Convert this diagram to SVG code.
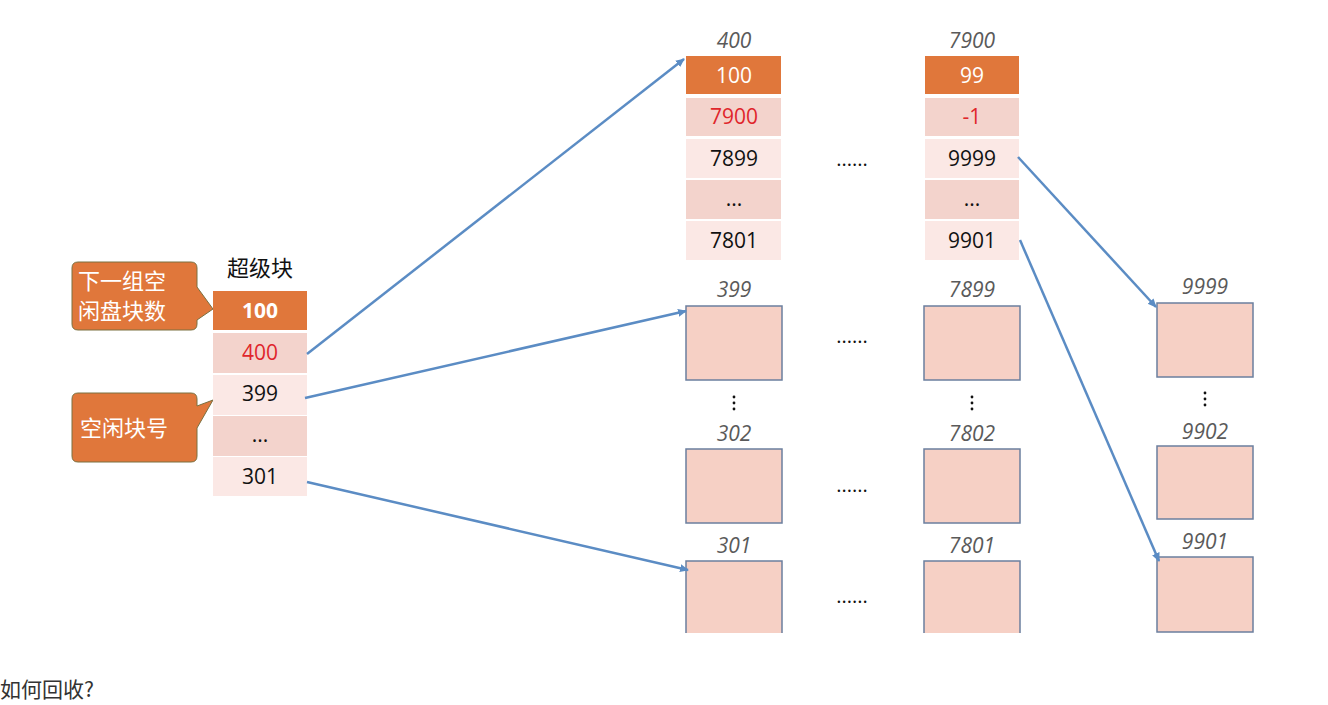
<svg xmlns="http://www.w3.org/2000/svg" width="1328" height="705" viewBox="0 0 1328 705">
<style>
.num{font-family:"Open Sans","Liberation Sans",sans-serif;font-size:21px;text-anchor:middle;fill:#111}
.lbl{font-family:"Open Sans","Liberation Sans",sans-serif;font-size:21px;font-style:italic;text-anchor:middle;fill:#5a5a5a}
.w{fill:#ffffff}
.r{fill:#e0262b}
.cn{font-family:"Noto Sans CJK SC",sans-serif}
.or{fill:#e0773b}
.dk{fill:#f3d3cc}
.lt{fill:#fbe8e5}
.box{fill:#f6d0c5;stroke:#6b7f9e;stroke-width:1.5}
.dots{font-family:"Open Sans","Liberation Sans",sans-serif;font-size:20px;text-anchor:middle;fill:#111}
.conn{stroke:#5b8cc4;stroke-width:2.5;fill:none;marker-end:url(#ah)}
</style>
<defs>
<marker id="ah" markerWidth="10" markerHeight="10" refX="8" refY="5" orient="auto" markerUnits="userSpaceOnUse">
<path d="M0,1 L9,5 L0,9 Z" fill="#5b8cc4"/>
</marker>
<clipPath id="slide"><rect x="0" y="0" width="1328" height="633"/></clipPath>
</defs>
<rect width="1328" height="705" fill="#ffffff"/>

<g id="callout1">
<path d="M78,262 H191 Q197,262 197,268 V287 L213,309 L197,320 V324 Q197,330 191,330 H78 Q72,330 72,324 V268 Q72,262 78,262 Z" fill="#e0773b" stroke="#7a7040" stroke-width="1"/>
<text class="cn" x="78" y="289" font-size="22" fill="#fff">下一组空</text>
<text class="cn" x="78" y="319" font-size="22" fill="#fff">闲盘块数</text>
</g>
<g id="callout2">
<path d="M78,393 H191 Q197,393 197,399 V406 L213,400 L197,428 V456 Q197,462 191,462 H78 Q72,462 72,456 V399 Q72,393 78,393 Z" fill="#e0773b" stroke="#7a7040" stroke-width="1"/>
<text class="cn" x="80" y="436" font-size="22" fill="#fff">空闲块号</text>
</g>

<g id="superblock">
<text class="cn" x="260" y="276" font-size="22" text-anchor="middle" fill="#111">超级块</text>
<rect class="or" x="213" y="291" width="94" height="39"/>
<text class="num w" x="260" y="318" font-weight="bold">100</text>
<rect class="dk" x="213" y="333" width="94" height="40"/>
<text class="num r" x="260" y="360">400</text>
<rect class="lt" x="213" y="375" width="94" height="40"/>
<text class="num" x="260" y="401">399</text>
<rect class="dk" x="213" y="416" width="94" height="40"/>
<text class="num" x="260" y="442">...</text>
<rect class="lt" x="213" y="457" width="94" height="39"/>
<text class="num" x="260" y="484">301</text>
</g>

<g id="block400">
<text class="lbl" x="734" y="48">400</text>
<rect class="or" x="686" y="56" width="95" height="38"/>
<text class="num w" x="734" y="83">100</text>
<rect class="dk" x="686" y="98" width="95" height="38"/>
<text class="num r" x="734" y="124">7900</text>
<rect class="lt" x="686" y="139" width="95" height="39"/>
<text class="num" x="734" y="166">7899</text>
<rect class="dk" x="686" y="180" width="95" height="39"/>
<text class="num" x="734" y="206">...</text>
<rect class="lt" x="686" y="221" width="95" height="39"/>
<text class="num" x="734" y="248">7801</text>
</g>

<g id="block7900">
<text class="lbl" x="972" y="48">7900</text>
<rect class="or" x="925" y="56" width="94" height="38"/>
<text class="num w" x="972" y="83">99</text>
<rect class="dk" x="925" y="98" width="94" height="38"/>
<text class="num r" x="972" y="124">-1</text>
<rect class="lt" x="925" y="139" width="94" height="39"/>
<text class="num" x="972" y="166">9999</text>
<rect class="dk" x="925" y="180" width="94" height="39"/>
<text class="num" x="972" y="206">...</text>
<rect class="lt" x="925" y="221" width="94" height="39"/>
<text class="num" x="972" y="248">9901</text>
</g>

<g id="hdots">
<text class="dots" x="852" y="166">......</text>
<text class="dots" x="852" y="343">......</text>
<text class="dots" x="852" y="492">......</text>
<text class="dots" x="852" y="603">......</text>
</g>

<g clip-path="url(#slide)">
<g id="b399"><text class="lbl" x="734" y="297">399</text><rect class="box" x="686" y="306" width="96" height="74"/></g>
<g id="b302"><text class="lbl" x="734" y="441">302</text><rect class="box" x="686" y="449" width="96" height="74"/></g>
<g id="b301"><text class="lbl" x="734" y="553">301</text><rect class="box" x="686" y="561" width="96" height="80"/></g>
<g id="b7899"><text class="lbl" x="972" y="297">7899</text><rect class="box" x="924" y="306" width="96" height="74"/></g>
<g id="b7802"><text class="lbl" x="972" y="441">7802</text><rect class="box" x="924" y="449" width="96" height="74"/></g>
<g id="b7801"><text class="lbl" x="972" y="553">7801</text><rect class="box" x="924" y="561" width="96" height="80"/></g>
<g id="b9999"><text class="lbl" x="1205" y="294">9999</text><rect class="box" x="1157" y="303" width="96" height="74"/></g>
<g id="b9902"><text class="lbl" x="1205" y="439">9902</text><rect class="box" x="1157" y="446" width="96" height="73"/></g>
<g id="b9901"><text class="lbl" x="1205" y="549">9901</text><rect class="box" x="1157" y="557" width="96" height="75"/></g>
</g>

<g id="vdots" fill="#111">
<circle cx="734" cy="397" r="1.4"/><circle cx="734" cy="403" r="1.4"/><circle cx="734" cy="409" r="1.4"/>
<circle cx="972" cy="397" r="1.4"/><circle cx="972" cy="403" r="1.4"/><circle cx="972" cy="409" r="1.4"/>
<circle cx="1205" cy="393" r="1.4"/><circle cx="1205" cy="399" r="1.4"/><circle cx="1205" cy="405" r="1.4"/>
</g>

<g id="connectors">
<line class="conn" x1="307" y1="354" x2="684" y2="59"/>
<line class="conn" x1="305" y1="398" x2="686" y2="311"/>
<line class="conn" x1="307" y1="482" x2="688" y2="570"/>
<line class="conn" x1="1018" y1="157" x2="1156" y2="307"/>
<line class="conn" x1="1020" y1="240" x2="1159" y2="561"/>
</g>

<text class="cn" x="0" y="697" font-size="21" fill="#333">如何回收?</text>
</svg>
